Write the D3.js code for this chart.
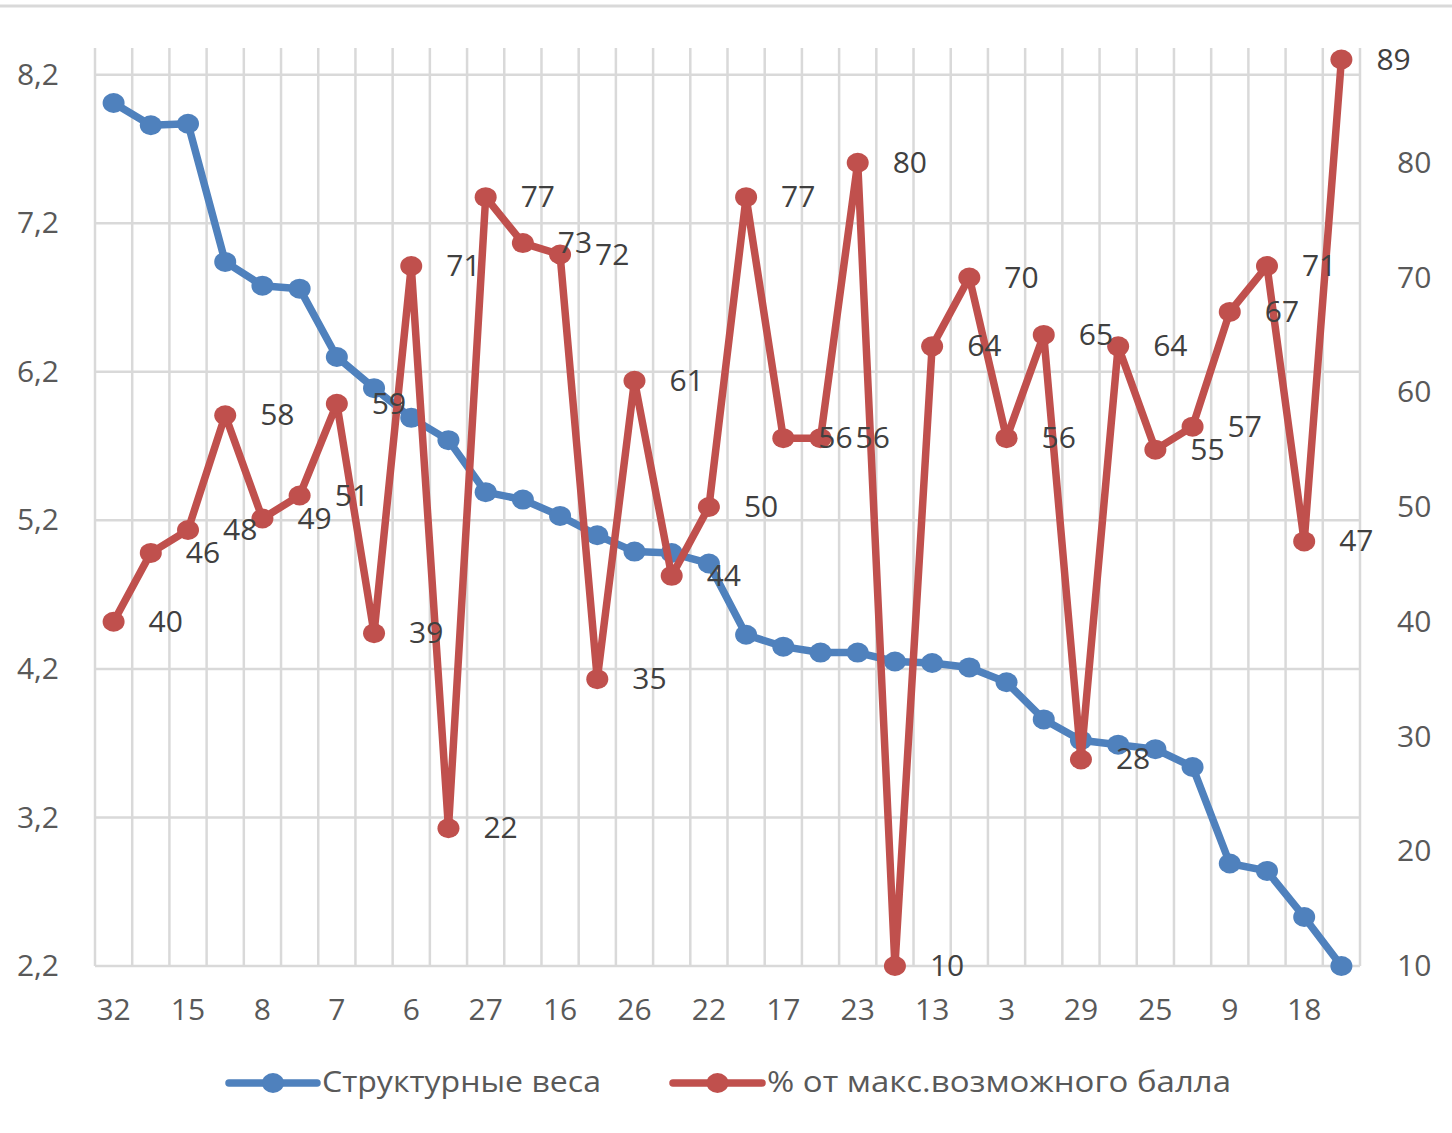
<!DOCTYPE html>
<html>
<head>
<meta charset="utf-8">
<script src="https://cdn.jsdelivr.net/npm/d3@7"></script>
<style>
  html, body { margin: 0; padding: 0; background: #ffffff; }
  svg { display: block; }
</style>
</head>
<body>
<script>
// Region codes, in the order they are ranked by structural weight
const categories = [32, 1, 15, 2, 8, 4, 7, 5, 6, 10, 27, 11, 16, 12, 26, 14, 22,
                    19, 17, 20, 23, 21, 13, 24, 3, 28, 29, 30, 25, 31, 9, 33, 18, 34];

// Structural weights (left axis)
const weights = [8.01, 7.86, 7.87, 6.94, 6.78, 6.76, 6.30, 6.09, 5.89, 5.74, 5.39, 5.34,
                 5.23, 5.10, 4.99, 4.98, 4.91, 4.43, 4.35, 4.31, 4.31, 4.25, 4.24, 4.21,
                 4.11, 3.86, 3.72, 3.69, 3.66, 3.54, 2.89, 2.84, 2.53, 2.20];

// Percent of the maximum possible score (right axis)
const percents = [40, 46, 48, 58, 49, 51, 59, 39, 71, 22, 77, 73, 72, 35, 61, 44, 50,
                  77, 56, 56, 80, 10, 64, 70, 56, 65, 28, 64, 55, 57, 67, 71, 47, 89];

const leftTicks = [2.2, 3.2, 4.2, 5.2, 6.2, 7.2, 8.2];
const rightTicks = [10, 20, 30, 40, 50, 60, 70, 80];

const seriesNames = ["Структурные веса", "% от макс.возможного балла"];

const W = 1452, H = 1133;
const plot = { left: 95, right: 1360, top: 48, bottom: 966 };

const BLUE = "#4f81bd", RED = "#c0504d", GRID = "#d9d9d9";
const TICK_TEXT = "#595959", LABEL_TEXT = "#404040";
const FONT = "'Open Sans', 'Noto Sans', sans-serif";

const svg = d3.select("body").append("svg")
  .attr("width", W).attr("height", H)
  .style("font-family", FONT);

svg.append("rect").attr("width", W).attr("height", H).attr("fill", "#fff");

// chart area top border
svg.append("line")
  .attr("x1", 0).attr("x2", W).attr("y1", 6).attr("y2", 6)
  .attr("stroke", GRID).attr("stroke-width", 3);

const idx = d3.range(categories.length);
const x = d3.scaleBand().domain(idx).range([plot.left, plot.right]).paddingInner(0).paddingOuter(0);
const cx = i => x(i) + x.bandwidth() / 2;

const yL = d3.scaleLinear().domain([2.2, 8.38]).range([plot.bottom, plot.top]);
const yR = d3.scaleLinear().domain([10, 90]).range([plot.bottom, plot.top]);

// gridlines
const grid = svg.append("g").attr("stroke", GRID).attr("stroke-width", 2.5);
grid.selectAll("line.v")
  .data(idx.concat([categories.length]))
  .join("line").attr("class", "v")
  .attr("x1", i => i < categories.length ? x(i) : plot.right)
  .attr("x2", i => i < categories.length ? x(i) : plot.right)
  .attr("y1", plot.top).attr("y2", plot.bottom);
grid.selectAll("line.h")
  .data(leftTicks)
  .join("line").attr("class", "h")
  .attr("x1", plot.left).attr("x2", plot.right)
  .attr("y1", d => yL(d)).attr("y2", d => yL(d));

// axes
const fmtComma = d => d3.format(".1f")(d).replace(".", ",");

const gL = svg.append("g").attr("transform", `translate(${plot.left},0)`)
  .call(d3.axisLeft(yL).tickValues(leftTicks).tickFormat(fmtComma).tickSize(0).tickPadding(36));
const gR = svg.append("g").attr("transform", `translate(${plot.right},0)`)
  .call(d3.axisRight(yR).tickValues(rightTicks).tickFormat(d3.format("d")).tickSize(0).tickPadding(37));
const gB = svg.append("g").attr("transform", `translate(0,${plot.bottom})`)
  .call(d3.axisBottom(x).tickFormat(i => i % 2 === 0 ? categories[i] : "").tickSize(0).tickPadding(33));

[gL, gR, gB].forEach(g => {
  g.select(".domain").remove();
  g.selectAll("text")
    .attr("fill", TICK_TEXT)
    .style("font-size", "30px")
    .style("font-family", FONT);
});

// series lines and markers
const series = [
  { values: weights, y: yL, color: BLUE },
  { values: percents, y: yR, color: RED }
];

series.forEach(s => {
  const line = d3.line().x((d, i) => cx(i)).y(d => s.y(d));
  svg.append("path")
    .datum(s.values)
    .attr("d", line)
    .attr("fill", "none")
    .attr("stroke", s.color)
    .attr("stroke-width", 7.5)
    .attr("stroke-linejoin", "round")
    .attr("stroke-linecap", "round");
  svg.append("g").selectAll("ellipse")
    .data(s.values)
    .join("ellipse")
    .attr("cx", (d, i) => cx(i))
    .attr("cy", d => s.y(d))
    .attr("rx", 11).attr("ry", 10)
    .attr("fill", s.color);
});

// value labels for the percent series
svg.append("g").selectAll("text")
  .data(percents)
  .join("text")
  .attr("x", (d, i) => cx(i) + 35)
  .attr("y", d => yR(d) + 2)
  .attr("dominant-baseline", "middle")
  .attr("fill", LABEL_TEXT)
  .style("font-size", "30px")
  .text(d => d3.format("d")(d));

// legend
const legend = [
  { name: seriesNames[0], color: BLUE, x0: 229, x1: 317, tx: 322, tw: 279 },
  { name: seriesNames[1], color: RED, x0: 673, x1: 762, tx: 767, tw: 464 }
];
const ly = 1083;
const lg = svg.append("g");
legend.forEach(l => {
  lg.append("line")
    .attr("x1", l.x0).attr("x2", l.x1).attr("y1", ly).attr("y2", ly)
    .attr("stroke", l.color).attr("stroke-width", 7.5).attr("stroke-linecap", "round");
  lg.append("ellipse")
    .attr("cx", (l.x0 + l.x1) / 2).attr("cy", ly).attr("rx", 11).attr("ry", 10)
    .attr("fill", l.color);
  lg.append("text")
    .attr("x", l.tx).attr("y", ly + 1)
    .attr("dominant-baseline", "middle")
    .attr("fill", TICK_TEXT)
    .attr("textLength", l.tw).attr("lengthAdjust", "spacingAndGlyphs")
    .style("font-size", "29px")
    .text(l.name);
});
</script>
</body>
</html>
